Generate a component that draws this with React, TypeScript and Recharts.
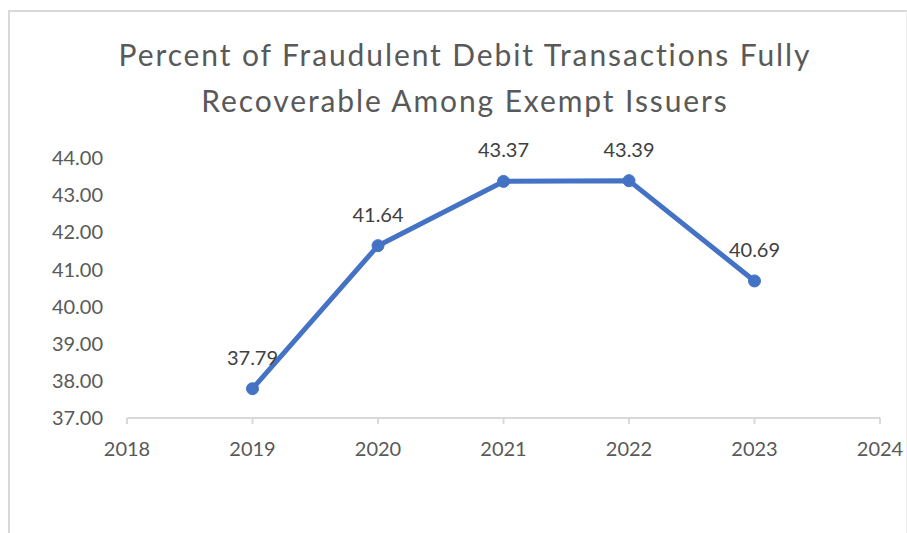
import React from "react";
import { LineChart, Line, XAxis, YAxis, LabelList } from "recharts";

const years = [2019, 2020, 2021, 2022, 2023];
const percents = [37.79, 41.64, 43.37, 43.39, 40.69];
const xTicks = [2018, 2019, 2020, 2021, 2022, 2023, 2024];
const yTicks = [37, 38, 39, 40, 41, 42, 43, 44];
const titleLines = [
  "Percent of Fraudulent Debit Transactions Fully",
  "Recoverable Among Exempt Issuers",
];

const data = years.map((y, i) => ({ year: y, value: percents[i] }));

const FONT = "Lato, 'Liberation Sans', sans-serif";

const renderLabel = (props: any) => {
  const { x, y, value } = props;
  return (
    <text
      x={x}
      y={y - 32}
      textAnchor="middle"
      dominantBaseline="central"
      fill="#404040"
      fontSize={20}
      fontFamily={FONT}
    >
      {Number(value).toFixed(2)}
    </text>
  );
};

export default function App() {
  return (
    <div
      style={{
        position: "absolute",
        left: 0,
        top: 0,
        width: 907,
        height: 533,
        background: "#ffffff",
        overflow: "hidden",
      }}
    >
      <div
        style={{
          position: "absolute",
          left: 8,
          top: 10,
          width: 896,
          height: 540,
          borderLeft: "2px solid #d9d9d9",
          borderTop: "2px solid #d9d9d9",
          borderRight: "1px solid #eeeeee",
        }}
      />
      <div
        style={{
          position: "absolute",
          left: 0,
          top: 31,
          width: 930,
          textAlign: "center",
          fontFamily: FONT,
          fontSize: 30,
          letterSpacing: "1.9px",
          lineHeight: "46px",
          color: "#595959",
        }}
      >
        {titleLines.map((t) => (
          <div key={t}>{t}</div>
        ))}
      </div>
      <div style={{ position: "absolute", left: 0, top: 0 }}>
        <LineChart
          width={907}
          height={533}
          data={data}
          margin={{ top: 158, right: 27, bottom: 75, left: 7 }}
        >
          <XAxis
            dataKey="year"
            type="number"
            domain={[2018, 2024]}
            ticks={xTicks}
            height={40}
            axisLine={{ stroke: "#d9d9d9", strokeWidth: 2 }}
            tickLine={{ stroke: "#d9d9d9", strokeWidth: 2 }}
            tickSize={6}
            tickMargin={18}
            tick={{ fill: "#595959", fontSize: 20, fontFamily: FONT }}
            interval={0}
          />
          <YAxis
            type="number"
            domain={[37, 44]}
            ticks={yTicks}
            width={120}
            axisLine={false}
            tickLine={false}
            tickSize={0}
            tickMargin={24}
            tickFormatter={(v: number) => v.toFixed(2)}
            tick={{ fill: "#595959", fontSize: 20, fontFamily: FONT }}
            interval={0}
          />
          <Line
            dataKey="value"
            stroke="#4472C4"
            strokeWidth={5}
            dot={{ r: 6, fill: "#4472C4", stroke: "#4472C4", strokeWidth: 1 }}
            isAnimationActive={false}
          >
            <LabelList dataKey="value" content={renderLabel} />
          </Line>
        </LineChart>
      </div>
    </div>
  );
}
